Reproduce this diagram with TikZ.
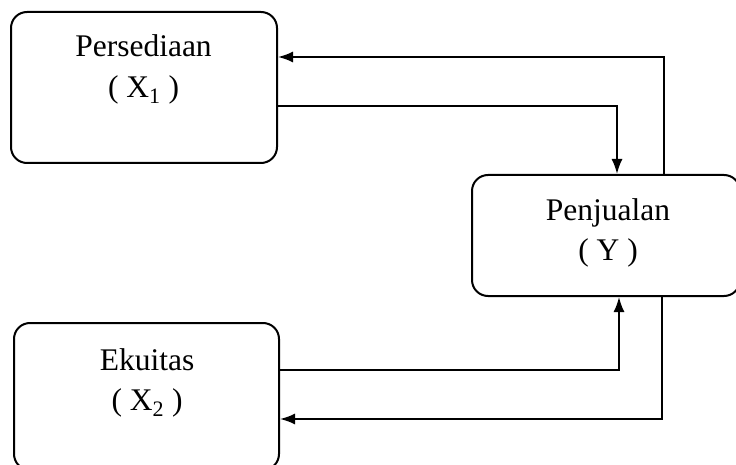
\documentclass[tikz,border=0pt]{standalone}
\usepackage{fontspec}
\setmainfont{Liberation Serif}
\usetikzlibrary{calc,arrows.meta}
\begin{document}
\begin{tikzpicture}[x=1pt,y=-1pt,
  box/.style={draw=black,line width=2pt,rounded corners=16pt,inner sep=0pt},
  lbl/.style={anchor=base,inner sep=0pt,font=\fontsize{31.5}{40}\selectfont},
  conn/.style={draw=black,line width=1.8pt,-{Latex[length=15pt,width=11pt]}}]
\useasboundingbox (0,0) rectangle (736,465);
% boxes
\node[box,minimum width=266pt,minimum height=151pt] (x1) at (144,87.5) {};
\node[box,minimum width=268pt,minimum height=121pt] (y) at (606,235.5) {};
\node[box,minimum width=265pt,minimum height=147pt] (x2) at (146.5,396.5) {};
% labels
\node[lbl] (x1a) at (143.5,57) {Persediaan};
\node[lbl] (x1b) at (143.5,98) {( X\textsubscript{1} )};
\node[lbl] (ya) at (608,220) {Penjualan};
\node[lbl] (yb) at (608,260) {( Y )};
\node[lbl] (x2a) at (147,370) {Ekuitas};
\node[lbl] (x2b) at (147,410) {( X\textsubscript{2} )};
% connectors
\draw[conn] ($(x1.east)+(0,18.5)$) -| ($(y.north)+(11,0)$);
\draw[conn] ($(y.north)+(58,0)$) |- ($(x1.east)+(0,-30.5)$);
\draw[conn] ($(x2.east)+(0,-26.5)$) -| ($(y.south)+(13,0)$);
\draw[conn] ($(y.south)+(56,0)$) |- ($(x2.east)+(0,22.5)$);
\end{tikzpicture}
\end{document}
